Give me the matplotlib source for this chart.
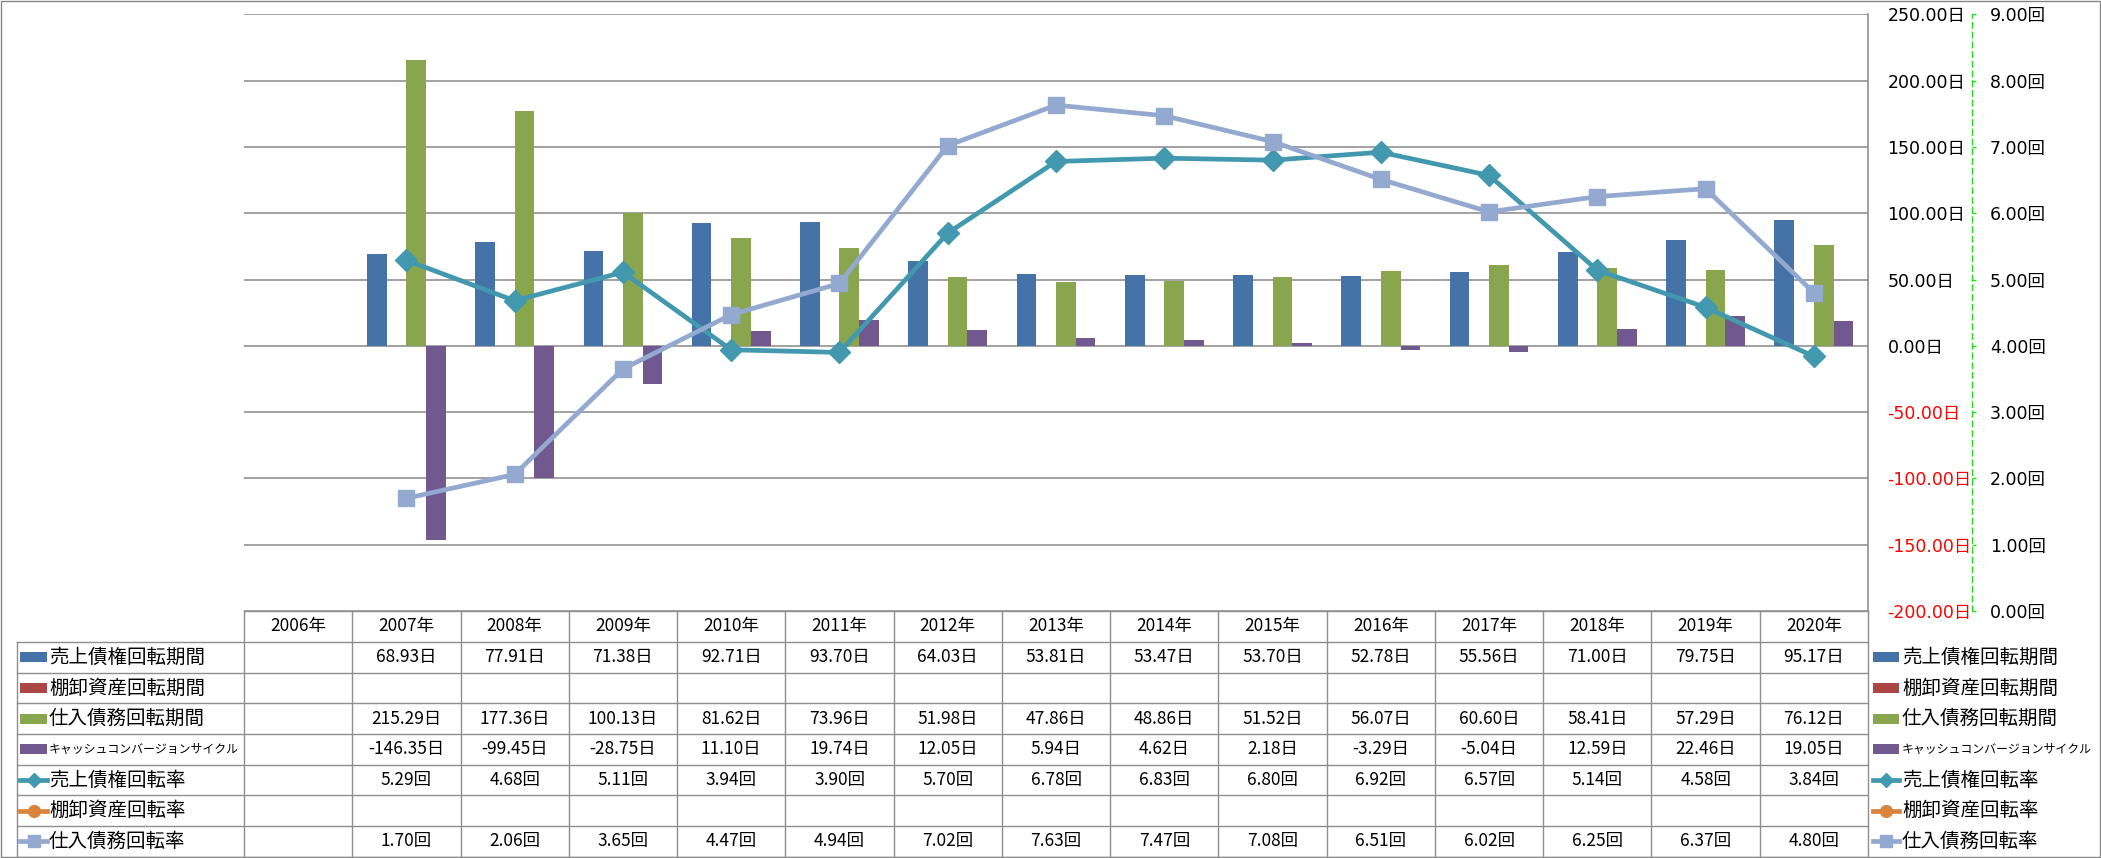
import numpy as np
import matplotlib
matplotlib.use('Agg')
import matplotlib.pyplot as plt
from matplotlib.lines import Line2D
from matplotlib.patches import Rectangle

plt.rcParams['font.family'] = ['DejaVu Sans', 'Noto Sans CJK JP']

nan = np.nan
years = ['2006年', '2007年', '2008年', '2009年', '2010年', '2011年', '2012年', '2013年',
         '2014年', '2015年', '2016年', '2017年', '2018年', '2019年', '2020年']
ar_days = [nan, 68.93, 77.91, 71.38, 92.71, 93.70, 64.03, 53.81, 53.47, 53.70, 52.78, 55.56, 71.00, 79.75, 95.17]
inv_days = [nan] * 15
ap_days = [nan, 215.29, 177.36, 100.13, 81.62, 73.96, 51.98, 47.86, 48.86, 51.52, 56.07, 60.60, 58.41, 57.29, 76.12]
ccc_days = [nan, -146.35, -99.45, -28.75, 11.10, 19.74, 12.05, 5.94, 4.62, 2.18, -3.29, -5.04, 12.59, 22.46, 19.05]
ar_turn = [nan, 5.29, 4.68, 5.11, 3.94, 3.90, 5.70, 6.78, 6.83, 6.80, 6.92, 6.57, 5.14, 4.58, 3.84]
inv_turn = [nan] * 15
ap_turn = [nan, 1.70, 2.06, 3.65, 4.47, 4.94, 7.02, 7.63, 7.47, 7.08, 6.51, 6.02, 6.25, 6.37, 4.80]

names = ['売上債権回転期間', '棚卸資産回転期間', '仕入債務回転期間', 'キャッシュコンバージョンサイクル',
         '売上債権回転率', '棚卸資産回転率', '仕入債務回転率']
bar_series = [ar_days, inv_days, ap_days, ccc_days]
line_series = [ar_turn, inv_turn, ap_turn]
bar_colors = ['#4572A7', '#AA4643', '#89A54E', '#71588F']
line_colors = ['#4198AF', '#DB843D', '#93A9CF']
line_markers = ['D', 'o', 's']

W, H = 2101, 858
fig = plt.figure(figsize=(W / 100, H / 100), dpi=100)

PL, PR, PT, PB = 244, 1868, 14.3, 611
ax = fig.add_axes([PL / W, 1 - PB / H, (PR - PL) / W, (PB - PT) / H])
n = len(years)
x = np.arange(n)
ax.set_xlim(-0.5, n - 0.5)
ax.set_ylim(-200, 250)
bw = 0.182
for i, (vals, c) in enumerate(zip(bar_series, bar_colors)):
    ax.bar(x + (i - 1.5) * bw, np.array(vals, dtype=float), width=bw, color=c, zorder=2)

ax2 = ax.twinx()

yt = np.arange(-200, 251, 50)
ax.set_yticks(yt)
ax.yaxis.tick_right()
ax.set_yticklabels([f'{v:.2f}日' for v in yt])
ax.tick_params(axis='y', which='both', left=False, right=True, labelleft=False,
               labelright=True, length=0, pad=14, labelsize=12.5)
for t, v in zip(ax.get_yticklabels(), yt):
    t.set_color('#FF0000' if v < 0 else '#000000')
    t.set_ha('left')
ax.set_xticks([])
ax.grid(axis='y', color='#878787', lw=1.1, zorder=0)
ax.set_axisbelow(True)
for s in ['left', 'top', 'bottom']:
    ax.spines[s].set_visible(False)
ax.spines['right'].set_color('#878787')
ax.spines['right'].set_linewidth(1.1)

ax2.set_ylim(0, 9)
ax2.set_yticks(np.arange(0, 10, 1))
ax2.set_yticklabels([f'{v:.2f}回' for v in range(10)])
ax2.spines['right'].set_position(('outward', (1972 - PR) * 0.72))
ax2.spines['right'].set_color('#22DD22')
ax2.spines['right'].set_linestyle((0, (4, 3)))
ax2.spines['right'].set_linewidth(1.0)
for s in ['left', 'top', 'bottom']:
    ax2.spines[s].set_visible(False)
ax2.tick_params(axis='y', length=3, width=1, color='#22DD22', pad=10,
                labelcolor='#000000', labelsize=12.5)
for vals, c, m in zip(line_series, line_colors, line_markers):
    ax2.plot(x, np.array(vals, dtype=float), color=c, lw=3.4, marker=m, ms=11,
             mec=c, mfc=c, zorder=3)

# overlay for data table, legend and frame
ov = fig.add_axes([0, 0, 1, 1], zorder=-1)
ov.set_xlim(0, W)
ov.set_ylim(H, 0)
ov.axis('off')
ov.patch.set_alpha(0)

gc = '#8E8E8E'
cw = (PR - PL) / n
hb = 642.0
rh = (856.5 - hb) / 7
LX = 17
ov.plot([PL, PR], [PB, PB], color=gc, lw=1)
for k in range(n + 1):
    ov.plot([PL + k * cw] * 2, [PB, 856.5], color=gc, lw=1)
ov.plot([LX, LX], [hb, 856.5], color=gc, lw=1)
for r in range(8):
    ov.plot([LX, PR], [hb + r * rh] * 2, color=gc, lw=1)
for k, yl in enumerate(years):
    ov.text(PL + (k + 0.5) * cw, (PB + hb) / 2, yl, ha='center', va='center',
            fontsize=12.5, family=['Noto Sans CJK JP'])

rows = bar_series + line_series
units = ['日'] * 4 + ['回'] * 3
for r, (vals, u) in enumerate(zip(rows, units)):
    yc = hb + (r + 0.5) * rh
    for k, v in enumerate(vals):
        if not np.isnan(v):
            ov.text(PL + (k + 0.5) * cw, yc, f'{v:.2f}{u}', ha='center', va='center',
                    fontsize=12.5, family=['Noto Sans CJK JP'])


def handle(x0, x1, yc, r):
    if r < 4:
        ov.add_patch(Rectangle((x0, yc - 5), x1 - x0, 10, color=bar_colors[r], lw=0))
    else:
        j = r - 4
        ms = 7.5 if line_markers[j] == 'D' else 8.5
        ov.add_line(Line2D([x0, x1], [yc, yc], color=line_colors[j], lw=3.4))
        ov.add_line(Line2D([(x0 + x1) / 2], [yc], color=line_colors[j], marker=line_markers[j],
                           ms=ms, mec=line_colors[j], mfc=line_colors[j]))


for r, nm in enumerate(names):
    yc = hb + (r + 0.5) * rh
    fs = 8.6 if r == 3 else 14
    handle(20, 47, yc, r)
    ov.text(49, yc, nm, ha='left', va='center', fontsize=fs, family=['Noto Sans CJK JP'])
    handle(1873, 1899, yc, r)
    ov.text(1902, yc, nm, ha='left', va='center', fontsize=fs, family=['Noto Sans CJK JP'])

ov.add_patch(Rectangle((0.5, 0.5), W - 1.5, H - 1.5, fill=False, ec='#868686', lw=1))

fig.savefig('out.png', dpi=100)
